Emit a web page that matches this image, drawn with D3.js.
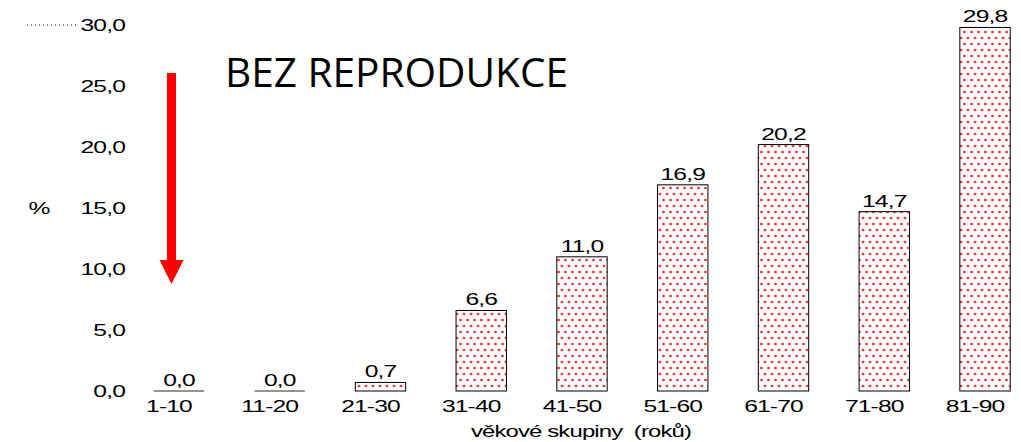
<!DOCTYPE html>
<html>
<head>
<meta charset="utf-8">
<script src="https://cdn.jsdelivr.net/npm/d3@7"></script>
<style>
  body { margin: 0; background: #fff; }
  text { font-family: "Liberation Sans", Arial, sans-serif; fill: #000; white-space: pre; }
</style>
</head>
<body>
<div id="chart"></div>
<script>
const categories = ['1-10', '11-20', '21-30', '31-40', '41-50', '51-60', '61-70', '71-80', '81-90'];
const values = [0.0, 0.0, 0.7, 6.6, 11.0, 16.9, 20.2, 14.7, 29.8];
const yTicks = [0, 5, 10, 15, 20, 25, 30];
const titleText = 'BEZ REPRODUKCE';
const xTitle = 'věkové skupiny  (roků)';
const yTitle = '%';

const svgWidth = 1021;
const svgHeight = 442;
const sx = 1.45; // horizontal stretch of the labels

const fmt = v => v.toFixed(1).replace('.', ',');

const svg = d3.select('#chart')
   .append('svg')
   .attr('width', svgWidth)
   .attr('height', svgHeight);

// dot pattern for the bars
const defs = svg.append('defs');
const pat = defs.append('pattern')
   .attr('id', 'dots')
   .attr('patternUnits', 'userSpaceOnUse')
   .attr('width', 14)
   .attr('height', 12);
pat.append('rect').attr('width', 14).attr('height', 12).attr('fill', '#fff');
[[2, 2], [9, 2], [5.5, 8], [12.5, 8]].forEach(([px, py]) => {
    pat.append('ellipse')
       .attr('cx', px).attr('cy', py)
       .attr('rx', 1.6).attr('ry', 1.2)
       .attr('fill', '#ff6a6a');
    pat.append('rect')
       .attr('x', px - 0.8).attr('y', py - 0.6)
       .attr('width', 1.6).attr('height', 1.2)
       .attr('fill', '#f00000');
});

const xScale = d3.scaleBand()
   .domain(categories)
   .range([103.4, 1060.6])
   .padding(0.5);

const yScale = d3.scaleLinear()
   .domain([0, 30])
   .range([391, 25]);

// stretched text helper
function stretchedText(g, x, y, str, anchor, size) {
    return g.append('text')
       .attr('transform', `translate(${x},${y}) scale(${sx},1)`)
       .attr('text-anchor', anchor)
       .attr('font-size', size || 17)
       .attr('letter-spacing', -0.6)
       .text(str);
}

// y axis labels
const yAxis = svg.append('g');
yTicks.forEach(t => {
    stretchedText(yAxis, 125, yScale(t) + 6, fmt(t), 'end');
});
stretchedText(yAxis, 39, yScale(15) + 6, yTitle, 'middle');

// dotted stub at the top
svg.append('line')
   .attr('x1', 27).attr('x2', 76)
   .attr('y1', yScale(30)).attr('y2', yScale(30))
   .attr('stroke', '#000')
   .attr('stroke-width', 1)
   .attr('stroke-dasharray', '1,3');

// bars
const bars = svg.append('g');
categories.forEach((c, i) => {
    const v = values[i];
    const x = xScale(c);
    if (v > 0) {
        bars.append('rect')
           .attr('x', x)
           .attr('y', yScale(v))
           .attr('width', xScale.bandwidth())
           .attr('height', yScale(0) - yScale(v))
           .attr('fill', 'url(#dots)')
           .attr('stroke', '#000')
           .attr('stroke-width', 1);
    } else {
        bars.append('line')
           .attr('x1', x).attr('x2', x + xScale.bandwidth())
           .attr('y1', yScale(0)).attr('y2', yScale(0))
           .attr('stroke', '#3a2222')
           .attr('stroke-width', 1.2);
    }
    stretchedText(bars, x + xScale.bandwidth() / 2, yScale(v) - 5, fmt(v), 'middle');
    stretchedText(bars, x + xScale.bandwidth() / 2 - 10, 412, c, 'middle');
});

// axis title
stretchedText(svg, 581, 437, xTitle, 'middle', 16.5);

// big title
svg.append('text')
   .attr('x', 225)
   .attr('y', 87)
   .style('font-family', '"Open Sans", "Noto Sans", sans-serif')
   .attr('font-size', 40)
   .attr('textLength', 343)
   .attr('lengthAdjust', 'spacingAndGlyphs')
   .text(titleText);

// red arrow
const ax = 171.5;
svg.append('rect')
   .attr('x', ax - 4.5).attr('y', 73)
   .attr('width', 9).attr('height', 190)
   .attr('fill', '#ff0000');
svg.append('path')
   .attr('d', `M${ax - 12},260 L${ax + 12},260 L${ax},284 Z`)
   .attr('fill', '#ff0000');
</script>
</body>
</html>
